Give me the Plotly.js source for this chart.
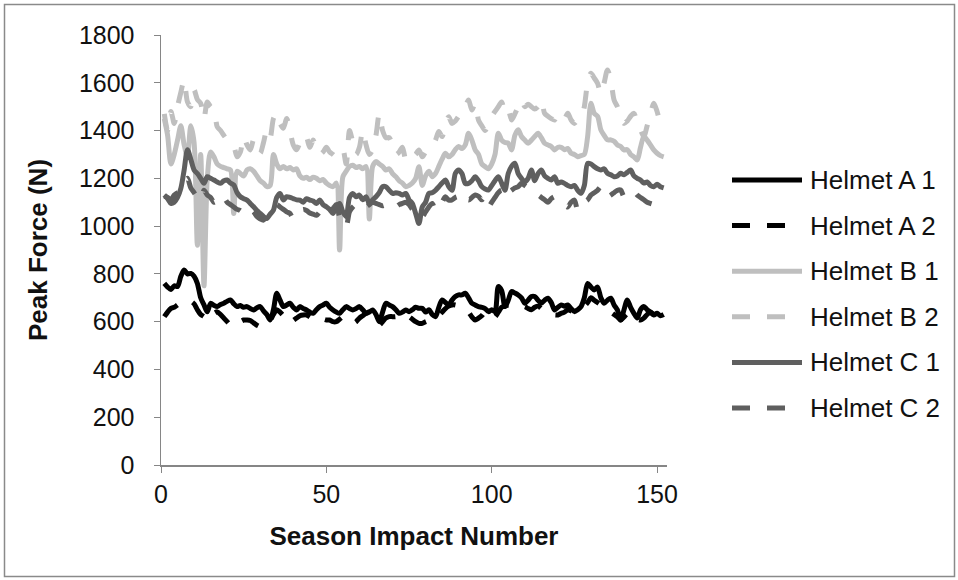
<!DOCTYPE html>
<html>
<head>
<meta charset="utf-8">
<script src="https://cdn.plot.ly/plotly-3.0.1.min.js"></script>
<style>
html,body{margin:0;padding:0;background:#fff;}
#chart{width:958px;height:580px;}
</style>
</head>
<body>
<div id="chart"></div>
<script>
// ---- data ----
const seriesNames = ["Helmet A 1","Helmet A 2","Helmet B 1","Helmet B 2","Helmet C 1","Helmet C 2"];

const helmetA1 = [
 760,745,735,750,747,790,816,800,802,790,
 760,700,670,641,677,668,663,672,677,685,
 691,675,663,668,660,663,655,649,658,663,
 645,630,607,650,719,690,663,670,677,660,
 649,663,655,649,640,635,650,663,670,677,
 660,649,640,635,650,663,655,649,655,663,
 650,635,640,649,630,600,640,677,670,663,
 650,635,640,649,642,650,660,656,656,640,
 650,630,621,660,691,680,670,690,705,712,
 712,719,700,677,670,663,660,655,642,650,
 642,747,730,663,690,726,720,712,700,677,
 690,705,705,690,677,690,698,680,649,660,
 670,665,670,655,642,650,663,700,760,745,
 733,745,700,677,690,698,670,649,607,650,
 691,660,635,615,650,663,650,640,628,635,
 625,630];

const helmetA2 = [
 621,640,656,660,670,680,684,690,686,675,
 650,630,621,605,625,635,641,630,615,600,
 585,579,590,600,607,607,605,595,585,579,
 585,607,607,630,650,640,625,610,593,605,
 615,625,628,628,620,610,600,605,610,607,
 607,600,600,610,620,615,605,593,600,615,
 625,635,640,620,600,586,600,615,621,621,
 621,630,625,615,620,610,600,593,593,600,
 605,610,614,625,640,655,665,670,670,665,
 660,650,640,620,607,615,625,640,630,614,
 620,640,660,665,670,670,665,660,663,663,
 655,650,660,665,655,640,635,630,628,628,
 635,640,650,645,640,645,655,665,680,700,
 690,680,670,660,650,640,630,620,607,620,
 635,640,625,610,607,615,630,640,630,628,
 620,615];

const helmetB1 = [
 1450,1380,1260,1300,1360,1420,1340,1290,1420,1350,
 920,1300,750,1200,1310,1290,1260,1250,1245,1240,
 1235,1053,1230,1220,1210,1235,1240,1230,1210,1190,
 1180,1165,1170,1300,1260,1240,1250,1240,1245,1235,
 1240,1210,1200,1205,1195,1205,1200,1190,1195,1180,
 1170,1165,1180,900,1207,1230,1250,1255,1245,1250,
 1240,1250,1030,1250,1270,1260,1250,1235,1240,1220,
 1207,1190,1180,1165,1170,1180,1200,1249,1170,1210,
 1230,1207,1220,1250,1280,1305,1290,1300,1320,1333,
 1325,1340,1389,1360,1319,1300,1260,1249,1240,1260,
 1300,1389,1360,1350,1347,1319,1380,1403,1375,1360,
 1347,1360,1375,1389,1370,1347,1340,1333,1319,1330,
 1330,1320,1325,1305,1300,1290,1295,1300,1375,1514,
 1472,1460,1403,1380,1361,1361,1355,1340,1333,1319,
 1320,1300,1290,1277,1330,1375,1360,1340,1319,1305,
 1295,1290];

const helmetB2 = [
 1470,1400,1480,1430,1500,1560,1612,1520,1500,1570,
 1530,1514,1450,1520,1500,1490,1416,1400,1380,1361,
 1340,1333,1290,1310,1374,1340,1319,1361,1330,1305,
 1350,1403,1370,1450,1472,1430,1410,1450,1400,1340,
 1320,1350,1380,1370,1330,1360,1320,1300,1310,1330,
 1310,1300,1290,1300,1320,1260,1400,1350,1300,1330,
 1400,1340,1300,1320,1380,1470,1400,1370,1370,1340,
 1300,1310,1330,1280,1300,1290,1300,1319,1290,1310,
 1320,1333,1360,1396,1375,1430,1458,1430,1440,1460,
 1480,1500,1528,1486,1514,1444,1420,1400,1430,1460,
 1480,1500,1520,1472,1486,1444,1470,1500,1528,1500,
 1510,1500,1490,1500,1528,1472,1460,1450,1444,1472,
 1460,1450,1472,1444,1430,1444,1450,1500,1600,1640,
 1620,1598,1555,1600,1654,1612,1528,1500,1458,1430,
 1440,1460,1472,1430,1403,1375,1420,1470,1514,1480,
 1430,1403];

const helmetC1 = [
 1130,1115,1095,1100,1120,1158,1235,1320,1280,1235,
 1220,1200,1179,1207,1200,1193,1185,1179,1190,1193,
 1180,1172,1140,1123,1115,1109,1095,1081,1065,1053,
 1040,1032,1050,1067,1120,1137,1109,1123,1120,1115,
 1110,1109,1100,1115,1109,1105,1095,1109,1090,1081,
 1070,1053,1080,1095,1060,1040,1120,1137,1123,1130,
 1110,1123,1095,1110,1123,1140,1165,1165,1150,1137,
 1140,1137,1130,1137,1110,1095,1053,1011,1080,1100,
 1137,1140,1150,1165,1180,1193,1165,1150,1221,1235,
 1220,1179,1179,1190,1207,1190,1165,1155,1151,1170,
 1190,1207,1180,1150,1220,1250,1263,1220,1200,1185,
 1200,1235,1190,1220,1235,1210,1200,1193,1207,1179,
 1185,1179,1170,1165,1170,1150,1137,1170,1263,1260,
 1249,1240,1235,1240,1221,1215,1207,1210,1221,1215,
 1225,1235,1210,1200,1193,1180,1185,1170,1165,1175,
 1165,1160];

const helmetC2 = [
 1125,1120,1110,1130,1140,1150,1180,1200,1160,1140,
 1120,1110,1150,1130,1120,1100,1110,1130,1120,1100,
 1090,1080,1070,1065,1050,1060,1070,1060,1040,1030,
 1025,1040,1060,1070,1090,1080,1070,1060,1053,1032,
 1040,1060,1070,1065,1055,1050,1045,1060,1080,1090,
 1080,1075,1090,1040,1020,1000,1060,1080,1090,1080,
 1070,1080,1090,1100,1095,1090,1085,1088,1079,1070,
 1080,1090,1095,1100,1090,1070,1060,1067,1040,1060,
 1080,1095,1067,1080,1100,1123,1109,1110,1120,1125,
 1130,1137,1109,1120,1130,1125,1110,1123,1081,1100,
 1120,1140,1151,1123,1140,1150,1160,1165,1179,1170,
 1160,1150,1137,1130,1120,1110,1100,1115,1123,1109,
 1100,1090,1080,1100,1109,1067,1080,1100,1110,1130,
 1140,1150,1165,1150,1123,1130,1140,1150,1151,1123,
 1130,1140,1145,1130,1120,1110,1100,1095,1090,1081,
 1085,1080];

const yTickVals = [0,200,400,600,800,1000,1200,1400,1600,1800];
const xTickVals = [0,50,100,150];

// ---- styling ----
const seriesData = [helmetA1, helmetA2, helmetB1, helmetB2, helmetC1, helmetC2];
const colors = ["#000000","#000000","#bfbfbf","#bfbfbf","#5f5f5f","#5f5f5f"];
const DASH = "18px,17px";
const dashes = ["solid", DASH, "solid", DASH, "solid", DASH];
const FONT = "Liberation Sans, Arial, sans-serif";

const traces = seriesData.map((vals, k) => ({
  type: "scatter",
  mode: "lines",
  name: seriesNames[k],
  x: vals.map((_, i) => i + 1),
  y: vals,
  line: {color: colors[k], width: 5, dash: dashes[k], shape: "spline", smoothing: 0.8},
  showlegend: false,
  hoverinfo: "skip"
}));

// plot-area geometry in pixels (for legend/frame placement)
const M = {l: 161, r: 291, t: 35, b: 115};
const W = 958, H = 580;
const pw = W - M.l - M.r, ph = H - M.t - M.b;
const px = p => (p - M.l) / pw;
const py = q => (H - M.b - q) / ph;

const shapes = [{
  type: "rect", xref: "paper", yref: "paper",
  x0: px(4.5), x1: px(954.5), y0: py(4.5), y1: py(576.5),
  line: {color: "#8a8a8a", width: 1.5}, fillcolor: "rgba(0,0,0,0)", layer: "below"
}];
const annotations = [];
seriesNames.forEach((nm, k) => {
  const yc = 180 + k * 45.6;
  shapes.push({
    type: "line", xref: "paper", yref: "paper",
    x0: px(732), x1: px(802), y0: py(yc), y1: py(yc),
    line: {color: colors[k], width: 5, dash: dashes[k]}
  });
  annotations.push({
    xref: "paper", yref: "paper", x: px(808), y: py(yc),
    xanchor: "left", yanchor: "middle", showarrow: false,
    text: nm, font: {family: FONT, size: 26, color: "#111"}
  });
});

const layout = {
  width: W, height: H,
  margin: M,
  paper_bgcolor: "#ffffff",
  plot_bgcolor: "#ffffff",
  showlegend: false,
  font: {family: FONT, color: "#111"},
  xaxis: {
    range: [0, 153],
    tickvals: xTickVals,
    ticks: "outside", ticklen: 6, tickcolor: "#868686", tickwidth: 1,
    showline: true, linecolor: "#868686", linewidth: 1.5,
    showgrid: false, zeroline: false,
    tickfont: {family: FONT, size: 25, color: "#111"},
    title: {text: "<b>Season Impact Number</b>", font: {family: FONT, size: 26, color: "#111"}, standoff: 20}
  },
  yaxis: {
    range: [0, 1800],
    tickvals: yTickVals,
    ticks: "outside", ticklen: 6, tickcolor: "#868686", tickwidth: 1,
    showline: true, linecolor: "#868686", linewidth: 1.5,
    showgrid: false, zeroline: false,
    tickfont: {family: FONT, size: 25, color: "#111"},
    ticklabelstandoff: 14,
    title: {text: "<b>Peak Force (N)</b>", font: {family: FONT, size: 26, color: "#111"}, standoff: 24}
  },
  shapes: shapes,
  annotations: annotations
};

Plotly.newPlot("chart", traces, layout, {staticPlot: true, displayModeBar: false});
</script>
</body>
</html>
